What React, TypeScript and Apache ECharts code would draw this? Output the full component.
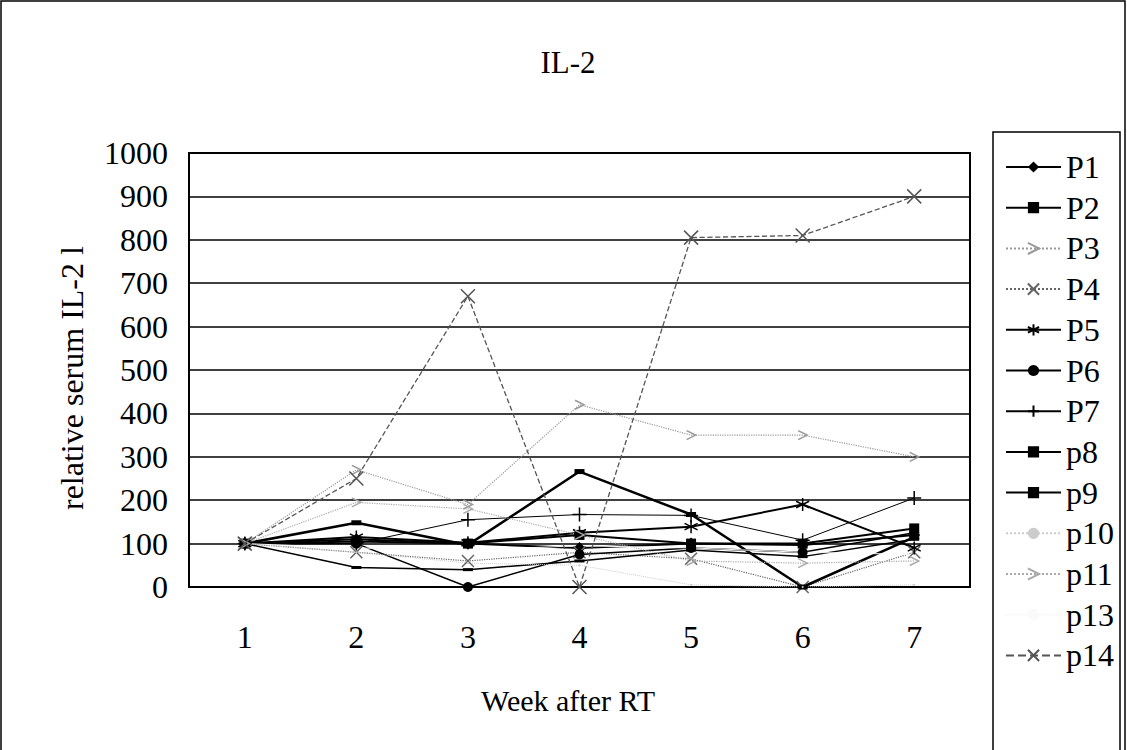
import React, { useEffect, useRef } from "react";
import * as echarts from "echarts";

const weeks = ["1", "2", "3", "4", "5", "6", "7"];
const seriesNames = ["P1", "P2", "P3", "P4", "P5", "P6", "P7", "p8", "p9", "p10", "p11", "p13", "p14"];
const P1 = [100, 110, 100, 90, 100, 97, 120];
const P2 = [100, 105, 100, 120, 100, 100, 135];
const P3 = [100, 270, 190, 420, 350, 350, 300];
const P4 = [100, 80, 60, 80, 65, 0, 80];
const P5 = [100, 115, 102, 125, 139, 190, 90];
const P6 = [100, 100, 0, 75, 90, 80, 125];
const P7 = [100, 100, 155, 167, 165, 108, 205];
const p8 = [100, 148, 97, 266, 167, 0, 115];
const p9 = [100, 45, 40, 60, 85, 70, 110];
const p10 = [100, 80, 55, 50, 5, 0, 5];
const p11 = [100, 195, 180, 120, 60, 55, 60];
const p13 = [100, 90, 85, 95, 90, 80, 75];
const p14 = [100, 250, 670, 0, 805, 810, 900];
const seriesValues = [P1, P2, P3, P4, P5, P6, P7, p8, p9, p10, p11, p13, p14];

const X_SYM = "path://M0,0L10,10M10,0L0,10";
const STAR_SYM = "path://M5,0L5,10M0,2.5L10,7.5M10,2.5L0,7.5";
const PLUS_SYM = "path://M5,0L5,10M0,5L10,5";
const ARROW_SYM = "path://M0,0L8,5L0,10";

const FONT = "Liberation Serif";

type Style = {
  color: string;
  width: number;
  type: string;
  symbol: string;
  size: number | number[];
  stroke?: boolean;
};

const styles: Style[] = [
  { color: "#000", width: 2, type: "solid", symbol: "diamond", size: 12 },
  { color: "#000", width: 2, type: "solid", symbol: "rect", size: 10 },
  { color: "#999", width: 1.2, type: "dotted", symbol: ARROW_SYM, size: 9, stroke: true },
  { color: "#666", width: 1.2, type: "dotted", symbol: X_SYM, size: 12, stroke: true },
  { color: "#000", width: 2, type: "solid", symbol: STAR_SYM, size: 13, stroke: true },
  { color: "#000", width: 1.5, type: "solid", symbol: "circle", size: 10 },
  { color: "#000", width: 1, type: "solid", symbol: PLUS_SYM, size: 14, stroke: true },
  { color: "#000", width: 2.5, type: "solid", symbol: "rect", size: [10, 5] },
  { color: "#000", width: 1.5, type: "solid", symbol: "rect", size: [10, 3] },
  { color: "#ccc", width: 1, type: "dotted", symbol: "circle", size: 2 },
  { color: "#aaa", width: 1.2, type: "dotted", symbol: ARROW_SYM, size: 9, stroke: true },
  { color: "#fafafa", width: 1, type: "solid", symbol: "none", size: 0 },
  { color: "#555", width: 1.3, type: "dashed", symbol: X_SYM, size: 14, stroke: true },
];

export default function App() {
  const ref = useRef<HTMLDivElement>(null);
  useEffect(() => {
    document.body.style.margin = "0";
    const chart = echarts.init(ref.current!, null, { renderer: "svg" });
    const series = seriesNames.map((name, i) => {
      const s = styles[i];
      return {
        name,
        type: "line",
        data: seriesValues[i],
        symbol: s.symbol,
        symbolSize: s.size,
        showSymbol: s.symbol !== "none",
        lineStyle: { color: s.color, width: s.width, type: s.type },
        itemStyle: s.stroke
          ? { color: "transparent", borderColor: s.color, borderWidth: 1.5 }
          : { color: s.color, borderWidth: 0 },
        emphasis: { disabled: true },
        z: 3,
      };
    });
    const option = {
      animation: false,
      textStyle: { fontFamily: FONT },
      grid: {
        left: 189,
        top: 153,
        width: 781,
        height: 434,
        show: true,
        borderColor: "#000",
        borderWidth: 2,
        backgroundColor: "transparent",
      },
      xAxis: {
        type: "category",
        data: weeks,
        boundaryGap: true,
        axisLine: { lineStyle: { color: "#000", width: 2 } },
        axisTick: { inside: true, length: 10, lineStyle: { color: "#000", width: 1.5 } },
        axisLabel: { fontSize: 32, color: "#000", margin: 34, fontFamily: FONT },
        splitLine: { show: false },
      },
      yAxis: {
        type: "value",
        min: 0,
        max: 1000,
        interval: 100,
        axisLine: { show: true, lineStyle: { color: "#000", width: 2 } },
        axisTick: { show: false },
        axisLabel: {
          fontSize: 32,
          color: "#000",
          margin: 21,
          fontFamily: FONT,
          formatter: (v: number) => String(v),
        },
        splitLine: { lineStyle: { color: "#000", width: 1.5 } },
      },
      legend: {
        orient: "vertical",
        left: 1005,
        top: 151,
        itemWidth: 55,
        itemHeight: 14,
        itemGap: 8.7,
        selectedMode: false,
        padding: 0,
        data: seriesNames,
        textStyle: { fontSize: 32, lineHeight: 32, color: "#000", fontFamily: FONT },
      },
      graphic: [
        {
          type: "rect",
          shape: { x: 1, y: 1, width: 1124, height: 760 },
          style: { fill: "none", stroke: "#000", lineWidth: 1.5 },
          silent: true,
        },
        {
          type: "rect",
          shape: { x: 993, y: 132, width: 127, height: 640 },
          style: { fill: "none", stroke: "#000", lineWidth: 1.5 },
          silent: true,
        },
        {
          type: "text",
          x: 568,
          y: 62,
          style: {
            text: "IL-2",
            fontSize: 31,
            fontFamily: FONT,
            fill: "#000",
            align: "center",
            verticalAlign: "middle",
          },
        },
        {
          type: "text",
          x: 568,
          y: 700,
          style: {
            text: "Week after RT",
            fontSize: 30,
            fontFamily: FONT,
            fill: "#000",
            align: "center",
            verticalAlign: "middle",
          },
        },
        {
          type: "text",
          x: 72,
          y: 510,
          rotation: Math.PI / 2,
          style: {
            text: "relative serum IL-2 level",
            fontSize: 32,
            fontFamily: FONT,
            fill: "#000",
            align: "left",
            verticalAlign: "middle",
            width: 280,
            overflow: "truncate",
            ellipsis: "",
          },
        },
      ],
      series,
    };
    chart.setOption(option as any);
    return () => chart.dispose();
  }, []);
  return (
    <div
      ref={ref}
      style={{ position: "fixed", left: 0, top: 0, width: 1127, height: 750, background: "#fff" }}
    />
  );
}
